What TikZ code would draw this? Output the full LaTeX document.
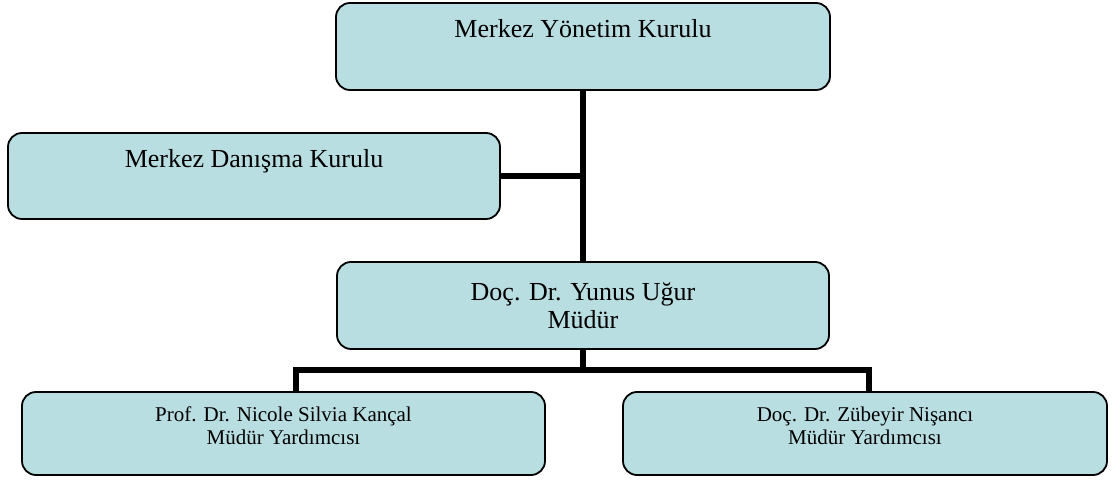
\documentclass[tikz,border=0pt]{standalone}
\usepackage{fontspec}
\setmainfont{Liberation Serif}
\usepackage{tikz}
\definecolor{kutumavi}{RGB}{184,222,226}

\begin{document}
\begin{tikzpicture}[x=0.5pt,y=-0.5pt,
    kutu/.style={draw=black, line width=0.9pt, fill=kutumavi, rounded corners=7pt, inner sep=0pt},
    buyuk/.style={anchor=north, inner sep=0pt, align=center, font=\fontsize{13}{14}\selectfont},
    kucuk/.style={anchor=north, inner sep=0pt, align=center, font=\fontsize{10.5}{11.5}\selectfont},
    baglanti/.style={line width=2.6pt}]

  \useasboundingbox (0,0) rectangle (1115,480);

  % kutular
  \node[kutu, minimum width=247pt, minimum height=43.5pt] (yk) at (583,46.5) {};
  \node[kutu, minimum width=246pt, minimum height=43pt] (dk) at (254,176) {};
  \node[kutu, minimum width=246pt, minimum height=43.5pt] (mdr) at (583,305.5) {};
  \node[kutu, minimum width=261.5pt, minimum height=41.5pt] (my1) at (283.5,433.5) {};
  \node[kutu, minimum width=242pt, minimum height=41.5pt] (my2) at (865,433.5) {};

  % yazilar
  \node[buyuk] (yk-yazi) at (583,19) {Merkez Yönetim Kurulu};
  \node[buyuk] (dk-yazi) at (254,149) {Merkez Danışma Kurulu};
  \node[buyuk] (mdr-yazi) at (583,282) {Doç. Dr. Yunus Uğur\\Müdür};
  \node[kucuk] (my1-yazi) at (283.5,406.5) {Prof. Dr. Nicole Silvia Kançal\\Müdür Yardımcısı};
  \node[kucuk] (my2-yazi) at (865,406.5) {Doç. Dr. Zübeyir Nişancı\\Müdür Yardımcısı};

  % baglantilar
  \coordinate (dal) at (583,370);
  \coordinate (sol) at (296,370);
  \coordinate (sag) at (869,370);

  \draw[baglanti] (yk.south) -- (mdr.north);
  \draw[baglanti] (dk.east) -- (dk.east -| yk.south);
  \draw[baglanti] (mdr.south) -- (dal);
  \draw[baglanti] (sol |- my1.north) -- (sol) -- (sag) -- (sag |- my2.north);
\end{tikzpicture}
\end{document}
